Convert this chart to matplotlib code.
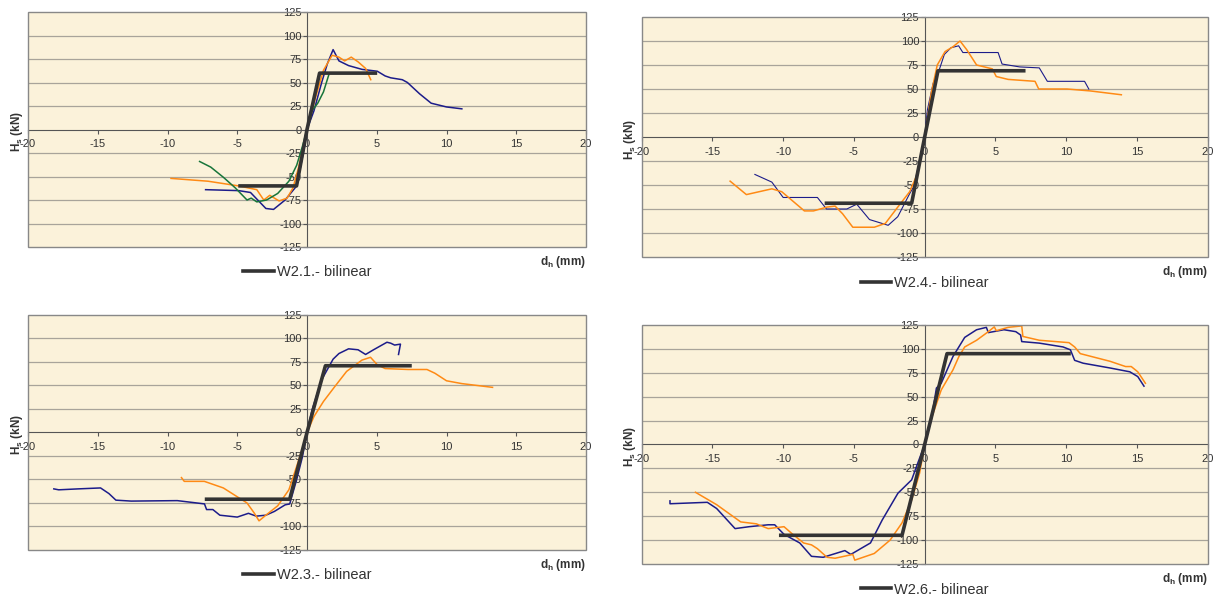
import matplotlib
matplotlib.use('Agg')
import matplotlib.pyplot as plt
from matplotlib.patches import Rectangle

plt.rcParams['font.family'] = ['Liberation Sans', 'DejaVu Sans']
plt.rcParams['axes.unicode_minus'] = False

# ---- W2.1 ----
w21_bil_x = [-4.8, -0.75, 0, 0.9, 4.9]
w21_bil_y = [-60, -60, 0, 60, 60]
w21_blue_x = [-7.27, -4.9, -4.05, -2.95, -2.4, -1.57, -0.74, -0.2, 0, 0.5, 1.05, 1.46, 1.87,
              2.29, 2.98, 3.94, 5.04, 5.6, 6.0, 6.83, 7.2, 8.07, 8.9, 10.0, 11.1]
w21_blue_y = [-64, -65, -67, -84, -85, -75, -60, -20, 0, 20, 50, 70, 85,
              73, 68, 64, 62, 57, 55, 53, 50, 38, 28, 24, 22]
w21_orange_x = [-9.75, -7.1, -4.9, -3.6, -3.1, -2.67, -2.0, -1.43, -1.0, -0.6, 0, 0.63, 1.18,
                1.8, 2.29, 2.7, 3.17, 3.66, 4.2, 4.57]
w21_orange_y = [-52, -55, -60, -64, -75, -70, -76, -73, -62, -40, 0, 35, 63,
                79, 77, 73, 77, 72, 65, 53]
w21_green_x = [-7.7, -6.9, -5.98, -5.15, -4.3, -4.0, -3.6, -2.9, -2.1, -1.3, -0.74, -0.33, 0,
               0.36, 0.77, 1.18, 1.6]
w21_green_y = [-34, -40, -51, -62, -75, -73, -77, -75, -68, -55, -38, -18, 0,
               20, 28, 40, 60]

# ---- W2.4 ----
w24_bil_x = [-6.94, -0.92, 0, 0.94, 7.0]
w24_bil_y = [-69, -69, 0, 69, 69]
w24_blue_x = [-12.0, -10.8, -10.0, -7.58, -6.94, -5.5, -4.8, -3.9, -2.58, -1.9, -1.06, -0.78,
              -0.5, 0, 0.19, 0.6, 0.94, 1.39, 1.86, 2.4, 2.7, 5.19, 5.47, 6.72, 8.1, 8.67,
              11.3, 11.6]
w24_blue_y = [-39, -47, -63, -63, -75, -75, -70, -86, -92, -83, -59, -52,
              -34, 0, 28, 56, 66, 86, 93, 95, 88, 88, 76, 73, 72, 58,
              58, 50]
w24_orange_x = [-13.75, -12.6, -10.8, -10.1, -8.5, -7.86, -6.9, -6.33, -5.8, -5.08, -3.56,
                -2.78, -1.9, -1.06, -0.5, 0, 0.47, 0.89, 1.44, 2.0, 2.5, 2.97, 3.67, 4.78,
                5.06, 5.9, 7.8, 8.06, 10.06, 11.7, 13.9]
w24_orange_y = [-46, -60, -54, -57, -77, -77, -73, -72, -80, -94, -94,
                -90, -73, -57, -38, 0, 46, 75, 89, 94, 100, 91, 75, 71,
                63, 60, 58, 50, 50, 48, 44]

# ---- W2.3 ----
w23_bil_x = [-7.2, -1.24, 0, 1.32, 7.38]
w23_bil_y = [-71, -71, 0, 71, 71]
w23_blue_x = [-18.15, -17.8, -16.4, -14.8, -14.2, -13.7, -12.6, -9.3, -7.9, -7.35, -7.2, -6.75,
              -6.25, -5.0, -4.2, -3.64, -2.95, -2.34, -1.57, -1.24, -0.74, -0.33, 0, 0.36,
              1.05, 1.87, 2.29, 2.98, 3.66, 4.2, 4.77, 5.73, 6.0, 6.28, 6.7, 6.56]
w23_blue_y = [-60, -61, -60, -59, -65, -72, -73, -72.5, -75, -76, -82, -82,
              -88, -90, -86, -89, -88, -84, -77, -76, -50, -26, 0, 24,
              56, 78, 84, 89, 88, 83, 88, 96, 95, 93, 94, 83]
w23_orange_x = [-9.0, -8.8, -7.36, -6.0, -4.3, -3.77, -3.44, -2.95, -2.1, -1.3, -0.74, -0.2,
                0, 0.5, 1.18, 2.0, 2.84, 3.94, 4.55, 5.04, 5.6, 7.25, 8.6, 9.17, 10.0,
                11.1, 13.3]
w23_orange_y = [-48, -52, -52, -59, -75, -86, -94, -88, -78, -61, -36, -11,
                0, 17, 33, 49, 65, 77, 80, 72, 68, 67, 67, 63, 55,
                52, 48]

# ---- W2.6 ----
w26_bil_x = [-10.17, -1.6, 0, 1.58, 10.2]
w26_bil_y = [-95, -95, 0, 95, 95]
w26_blue_x = [-18.0, -18.0, -15.36, -14.7, -13.4, -12.4, -11.06, -10.6, -9.94, -8.83, -8.0,
              -7.17, -5.64, -5.22, -3.83, -3.0, -1.89, -0.92, -0.5, 0, 0.47, 0.83, 1.17,
              2.0, 2.83, 3.67, 4.36, 4.5, 5.6, 6.44, 6.78, 6.86, 8.1, 9.78, 10.3, 10.6,
              11.2, 13.1, 14.5, 15.06, 15.5]
w26_blue_y = [-59, -62, -60.5, -67, -88, -86, -84, -84, -94, -103, -117,
              -118, -111, -115, -103, -79, -51, -37, -20, 0, 26, 59, 64,
              92, 112, 120, 122.5, 117, 120, 118, 114.5, 107.6, 106, 102, 99, 88,
              85, 80, 76, 71, 61]
w26_orange_x = [-16.2, -14.7, -13.0, -11.9, -11.06, -9.94, -9.4, -8.56, -8.0, -7.58, -6.9,
                -6.33, -5.08, -4.94, -3.56, -2.44, -1.6, -0.92, -0.36, 0, 0.47, 1.17, 2.0,
                2.42, 2.83, 3.67, 4.5, 4.92, 5.06, 5.9, 6.86, 6.94, 8.1, 10.2, 10.6, 11.0,
                13.1, 14.2, 14.6, 15.06, 15.6]
w26_orange_y = [-50, -63, -81, -83, -88, -86, -93, -103, -105, -109, -118,
                -119, -115, -121, -114, -100, -82, -58, -30, 0, 27, 57, 78,
                92, 102, 109, 118, 123, 119, 122.5, 124, 113, 109, 106.5, 102, 95,
                87, 81.5, 81.5, 76, 64]

BLUE = '#1c1c8a'
ORANGE = '#ff8a14'
GREEN = '#17753a'
BIL = '#333333'

fig = plt.figure(figsize=(12.13, 6.01), dpi=100)

panels = [
    ([0.0231, 0.589, 0.460, 0.391], 'W2.1.- bilinear', w21_bil_x, w21_bil_y,
     [(w21_blue_x, w21_blue_y, BLUE, 1.1), (w21_orange_x, w21_orange_y, ORANGE, 1.1),
      (w21_green_x, w21_green_y, GREEN, 1.1)]),
    ([0.529, 0.5724, 0.4666, 0.3993], 'W2.4.- bilinear', w24_bil_x, w24_bil_y,
     [(w24_blue_x, w24_blue_y, BLUE, 0.8), (w24_orange_x, w24_orange_y, ORANGE, 1.1)]),
    ([0.0231, 0.0849, 0.460, 0.391], 'W2.3.- bilinear', w23_bil_x, w23_bil_y,
     [(w23_blue_x, w23_blue_y, BLUE, 1.1), (w23_orange_x, w23_orange_y, ORANGE, 1.1)]),
    ([0.529, 0.0616, 0.4666, 0.3977], 'W2.6.- bilinear', w26_bil_x, w26_bil_y,
     [(w26_blue_x, w26_blue_y, BLUE, 1.1), (w26_orange_x, w26_orange_y, ORANGE, 1.1)]),
]

for rect, name, bx, by, curves in panels:
    ax = fig.add_axes(rect)
    ax.set_facecolor('#fbf2da')
    ax.set_xlim(-20, 20)
    ax.set_ylim(-125, 125)
    for yv in range(-100, 125, 25):
        if yv != 0:
            ax.axhline(yv, color='#a8a49a', lw=0.9, zorder=1)
    for cx, cy, col, lw in curves:
        ax.plot(cx, cy, color=col, lw=lw, zorder=3)
    ax.plot(bx, by, color=BIL, lw=2.6, zorder=4, label=name)

    ax.spines['left'].set_position(('data', 0))
    ax.spines['bottom'].set_position(('data', 0))
    ax.spines['top'].set_visible(False)
    ax.spines['right'].set_visible(False)
    ax.spines['left'].set_color('#555555')
    ax.spines['bottom'].set_color('#555555')
    ax.spines['left'].set_zorder(2)
    ax.spines['bottom'].set_zorder(2)
    ax.add_patch(Rectangle((0, 0), 1, 1, transform=ax.transAxes, fill=False,
                           edgecolor='#888888', lw=1.0, zorder=5, clip_on=False))

    ax.set_xticks(range(-20, 25, 5))
    ax.set_yticks(range(-125, 150, 25))
    ax.tick_params(axis='both', labelsize=8, labelcolor='#333333', color='#555555',
                   length=3, width=0.8, direction='out')
    ax.tick_params(axis='x', pad=4)
    ax.tick_params(axis='y', pad=1)

    ax.text(-0.02, 0.49, r'H$_\mathregular{s}$ (kN)', transform=ax.transAxes, rotation=90,
            ha='center', va='center', fontsize=8.5, fontweight='bold', color='#333333')
    ax.text(1.0, -0.064, r'd$_\mathregular{h}$ (mm)', transform=ax.transAxes,
            ha='right', va='center', fontsize=8.5, fontweight='bold', color='#333333')
    ax.legend(loc='center', bbox_to_anchor=(0.5, -0.107), frameon=False, fontsize=10.5,
              handlelength=2.1, handletextpad=0.2, labelcolor='#333333')

fig.savefig('out.png', dpi=100)
